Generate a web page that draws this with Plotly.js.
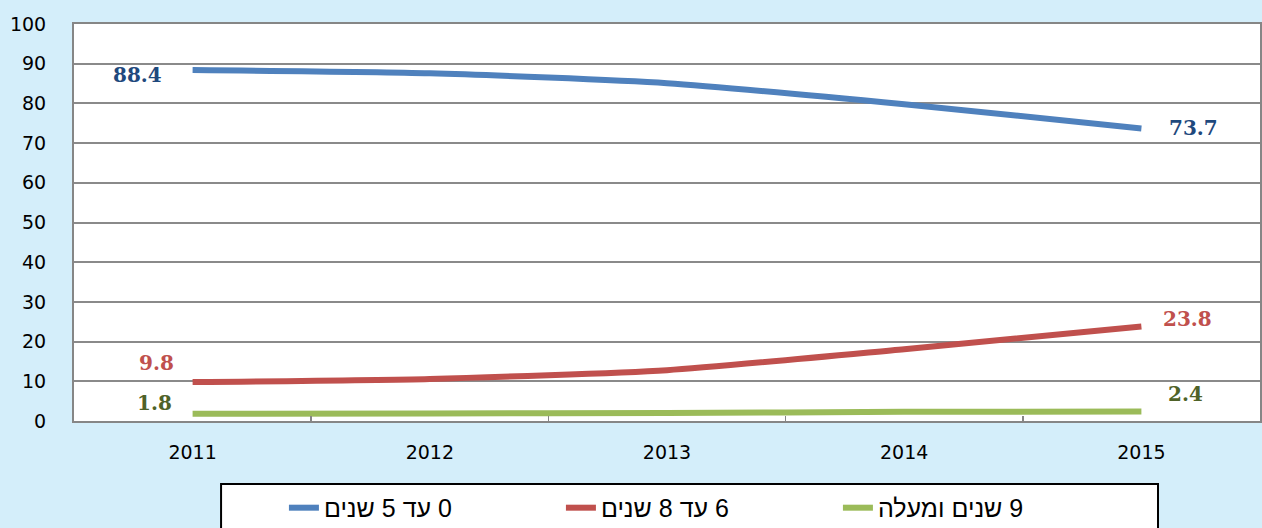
<!DOCTYPE html>
<html>
<head>
<meta charset="utf-8">
<script src="https://cdn.plot.ly/plotly-3.0.1.min.js"></script>
<style>html,body{margin:0;padding:0;background:#D4EEFA;}#chart{width:1262px;height:528px;}#err{position:absolute;left:300px;top:200px;color:red;font:14px sans-serif;}</style>
</head>
<body>
<div id="chart"></div>
<div id="err"></div>
<script>
const years = ['2011', '2012', '2013', '2014', '2015'];
const seriesNames = ['0 עד 5 שנים', '6 עד 8 שנים', '9 שנים ומעלה'];
const vals0to5 = [88.4, 87.6, 85.1, 79.8, 73.7];
const vals6to8 = [9.8, 10.6, 12.8, 18.1, 23.8];
const vals9plus = [1.8, 1.9, 2.0, 2.3, 2.4];
const yTicks = [0, 10, 20, 30, 40, 50, 60, 70, 80, 90, 100];

try {
const lineColors = ['#4F81BD', '#C0504D', '#9BBB59'];
const labelColors = ['#1F497D', '#C0504D', '#4F6228'];
const allVals = [vals0to5, vals6to8, vals9plus];
const rtl = s => '\u202B' + s + '\u202C';

const traces = allVals.map((v, i) => ({
  x: years, y: v, type: 'scatter', mode: 'lines',
  name: rtl(seriesNames[i]),
  line: {color: lineColors[i], width: 6, shape: 'spline', smoothing: 0.6},
  hoverinfo: 'x+y'
}));

const firstShift = [[-55, -5], [-36, 19], [-38, 11]];
const lastShift = [[52, 0], [46, 8], [44, 17]];
const annotations = [];
allVals.forEach((v, i) => {
  const n = v.length - 1;
  [[0, firstShift[i]], [n, lastShift[i]]].forEach(([k, sh]) => {
    annotations.push({
      x: k, y: v[k], xref: 'x', yref: 'y',
      text: '<b>' + v[k].toFixed(1) + '</b>', showarrow: false,
      xshift: sh[0], yshift: sh[1],
      font: {family: 'DejaVu Serif, serif', size: 20, color: labelColors[i]}
    });
  });
});

const layout = {
  width: 1262, height: 528,
  margin: {l: 74, r: 2, t: 24, b: 107, autoexpand: false},
  paper_bgcolor: '#D4EEFA',
  plot_bgcolor: '#FFFFFF',
  showlegend: true,
  font: {family: 'DejaVu Sans, sans-serif', color: '#000'},
  xaxis: {
    type: 'category', categoryarray: years, range: [-0.5, 4.5],
    showgrid: false, zeroline: false,
    showline: true, linecolor: '#868686', linewidth: 2, mirror: true,
    ticks: 'inside', tickson: 'boundaries', ticklen: 5, tickcolor: '#868686', tickwidth: 1.5,
    tickfont: {family: 'DejaVu Sans, sans-serif', size: 19, color: '#000'},
    ticklabelstandoff: 13, fixedrange: true
  },
  yaxis: {
    range: [0, 100], tickvals: yTicks, ticktext: yTicks.map(String),
    showgrid: true, gridcolor: '#8A8A8A', gridwidth: 2, zeroline: false,
    showline: true, linecolor: '#868686', linewidth: 2, mirror: true,
    ticks: '', tickfont: {family: 'DejaVu Sans, sans-serif', size: 19, color: '#000'},
    ticklabelstandoff: 22, fixedrange: true
  },
  legend: {
    orientation: 'h', x: 0.177, xanchor: 'left', y: -0.219, yanchor: 'middle',
    bgcolor: 'rgba(0,0,0,0)', borderwidth: 0,
    entrywidth: 232, entrywidthmode: 'pixels',
    font: {family: 'Liberation Sans Narrow, Liberation Sans, sans-serif', size: 25, color: '#000'}
  },
  shapes: [{
    type: 'rect', xref: 'paper', yref: 'paper', layer: 'below',
    x0: 0.124, x1: 0.914, y0: -0.1587, y1: -0.32,
    fillcolor: '#FFFFFF', line: {color: '#000', width: 2}
  }],
  annotations: annotations
};

Plotly.newPlot('chart', traces, layout, {displayModeBar: false, staticPlot: true})
  .catch(e => { document.getElementById('err').textContent = String(e); });
} catch (e) { document.getElementById('err').textContent = String(e); }
</script>
</body>
</html>
